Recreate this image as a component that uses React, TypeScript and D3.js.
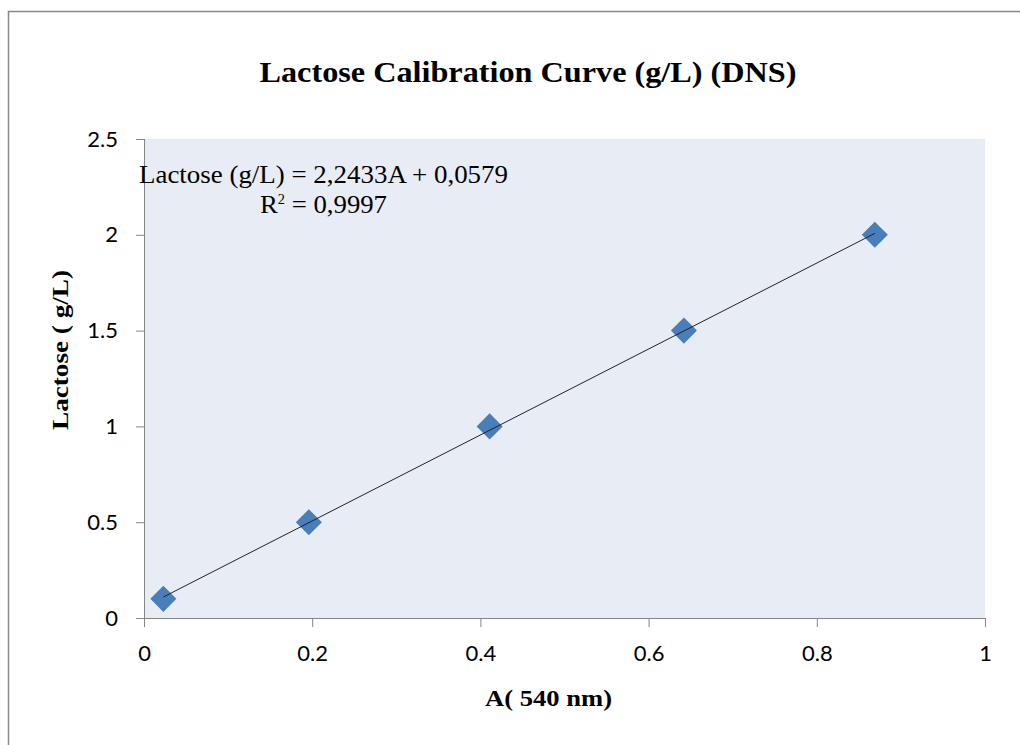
import React from 'react';
import * as d3 from 'd3';

// absorbance at 540 nm and lactose concentration (g/L)
const absorbance = [0.023, 0.196, 0.411, 0.642, 0.869];
const lactose = [0.1, 0.5, 1.0, 1.5, 2.0];
const xTicks = [0, 0.2, 0.4, 0.6, 0.8, 1];
const yTicks = [0, 0.5, 1, 1.5, 2, 2.5];
const slope = 2.2433;
const intercept = 0.0579;
const equationText = 'Lactose (g/L) = 2,2433A + 0,0579';
const r2Text = '= 0,9997';

const W = 1020;
const H = 745;
const margin = { left: 144, right: 35, top: 139, bottom: 127 };

const App = () => {
  const plotW = W - margin.left - margin.right;
  const plotH = H - margin.top - margin.bottom;

  const xScale = d3.scaleLinear().domain([0, 1]).range([0, plotW]);
  const yScale = d3.scaleLinear().domain([0, 2.5]).range([plotH, 0]);

  const xFirst = d3.min(absorbance) as number;
  const xLast = d3.max(absorbance) as number;
  const trend = d3
    .line<number>()
    .x((a) => xScale(a))
    .y((a) => yScale(slope * a + intercept));

  const diamond = d3.symbol().type(d3.symbolSquare).size(340)();

  const axisColor = '#868686';
  const tickFont = 'Lato, "Open Sans", sans-serif';
  const serif = '"Liberation Serif", "Times New Roman", serif';

  return (
    <svg
      width={W}
      height={H}
      style={{ position: 'absolute', left: 0, top: 0, background: '#fff' }}
    >
      {/* outer chart frame */}
      <rect x={8.5} y={11.5} width={W} height={H} fill="#fff" stroke="#888" strokeWidth={1.5} />

      <text
        x={528}
        y={82}
        textAnchor="middle"
        fontFamily={serif}
        fontWeight="bold"
        fontSize={30}
        textLength={537}
        lengthAdjust="spacingAndGlyphs"
        fill="#000"
      >
        Lactose Calibration Curve (g/L) (DNS)
      </text>

      <g transform={`translate(${margin.left},${margin.top})`}>
        <rect x={0} y={0} width={plotW} height={plotH} fill="#E8ECF4" />

        {/* y axis */}
        <line x1={0.5} x2={0.5} y1={0} y2={plotH} stroke={axisColor} />
        {yTicks.map((t) => (
          <g key={`y${t}`} transform={`translate(0,${yScale(t) + 0.5})`}>
            <line x1={-8} x2={0} stroke={axisColor} />
            <text x={-26} dy={7} textAnchor="end" fontFamily={tickFont} fontSize={22} fill="#000">
              {t}
            </text>
          </g>
        ))}

        {/* x axis */}
        <line x1={0} x2={plotW} y1={plotH + 0.5} y2={plotH + 0.5} stroke={axisColor} />
        {xTicks.map((t) => (
          <g key={`x${t}`} transform={`translate(${xScale(t) + 0.5},${plotH})`}>
            <line y1={0} y2={9} stroke={axisColor} />
            <text y={43} textAnchor="middle" fontFamily={tickFont} fontSize={22} fill="#000">
              {t}
            </text>
          </g>
        ))}

        {/* data points */}
        {absorbance.map((a, i) => (
          <path
            key={i}
            d={diamond as string}
            transform={`translate(${xScale(a)},${yScale(lactose[i])}) rotate(45)`}
            fill="#4A7EBB"
          />
        ))}

        {/* linear trendline */}
        <path d={trend([xFirst, xLast]) as string} fill="none" stroke="#222" strokeWidth={1} />

        {/* regression label */}
        <text
          x={179.5}
          y={44}
          textAnchor="middle"
          fontFamily={serif}
          fontSize={26}
          textLength={369}
          lengthAdjust="spacingAndGlyphs"
          fill="#000"
        >
          {equationText}
        </text>
        <text
          x={179.5}
          y={74}
          textAnchor="middle"
          fontFamily={serif}
          fontSize={26}
          textLength={127}
          lengthAdjust="spacingAndGlyphs"
          fill="#000"
        >
          R<tspan fontSize={14} dy={-9}>2</tspan>
          <tspan dy={9}> {r2Text}</tspan>
        </text>
      </g>

      <text
        transform="translate(68,350) rotate(-90)"
        textAnchor="middle"
        fontFamily={serif}
        fontWeight="bold"
        fontSize={23}
        textLength={160}
        lengthAdjust="spacingAndGlyphs"
        fill="#000"
      >
        Lactose ( g/L)
      </text>
      <text
        x={548.5}
        y={706}
        textAnchor="middle"
        fontFamily={serif}
        fontWeight="bold"
        fontSize={23}
        textLength={127}
        lengthAdjust="spacingAndGlyphs"
        fill="#000"
      >
        A( 540 nm)
      </text>
    </svg>
  );
};

export default App;
